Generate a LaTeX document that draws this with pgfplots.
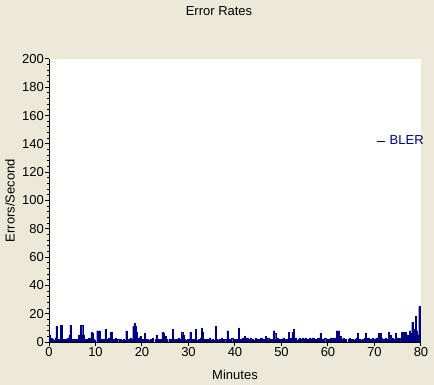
\documentclass[border=0pt]{standalone}
\usepackage{pgfplots}
\pgfplotsset{compat=1.18}
\usepackage{pgfplotstable}
\usepackage{fontspec}
\setmainfont{Liberation Sans}
\definecolor{bg}{RGB}{236,233,216}
\definecolor{navy}{RGB}{0,0,128}
% BLER, one value every 0.25 minute (4 values per minute)
\pgfplotstableread[row sep=\\]{
y\\
5\\2\\3\\2\\ 1\\3\\11\\2\\ 2\\1\\12\\2\\ 2\\2\\2\\0\\ 3\\5\\12\\1\\
2\\0\\2\\1\\ 2\\5\\5\\12\\ 12\\5\\2\\0\\ 2\\2\\3\\2\\ 7\\6\\2\\1\\
0\\8\\2\\8\\ 1\\2\\0\\2\\ 9\\2\\1\\3\\ 1\\7\\2\\0\\ 2\\3\\1\\2\\
0\\2\\1\\0\\ 2\\1\\8\\0\\ 2\\1\\3\\2\\ 11\\13\\11\\7\\ 2\\3\\4\\1\\
2\\0\\6\\2\\ 2\\1\\0\\2\\ 1\\3\\0\\2\\ 5\\1\\2\\0\\ 2\\7\\6\\1\\
4\\2\\0\\2\\ 1\\2\\9\\0\\ 2\\1\\2\\3\\ 1\\2\\7\\5\\ 2\\1\\0\\2\\
2\\7\\1\\2\\ 2\\0\\9\\1\\ 2\\1\\3\\10\\ 7\\2\\1\\2\\ 0\\2\\3\\1\\
2\\1\\0\\11\\ 2\\1\\2\\0\\ 3\\2\\1\\2\\ 0\\8\\2\\1\\ 2\\3\\0\\2\\
1\\2\\0\\10\\ 2\\1\\3\\2\\ 4\\2\\3\\1\\ 2\\3\\2\\2\\ 1\\3\\2\\0\\
2\\1\\3\\2\\ 2\\0\\4\\2\\ 3\\1\\2\\2\\ 2\\8\\6\\2\\ 3\\2\\1\\2\\
2\\3\\2\\2\\ 1\\2\\7\\3\\ 2\\7\\9\\2\\ 3\\1\\2\\3\\ 2\\2\\3\\2\\
3\\1\\2\\2\\ 3\\2\\3\\3\\ 2\\1\\2\\3\\ 2\\6\\2\\1\\ 2\\3\\0\\2\\
1\\2\\3\\2\\ 3\\2\\3\\8\\ 3\\8\\4\\2\\ 2\\3\\1\\2\\ 0\\2\\3\\2\\
2\\2\\1\\2\\ 3\\6\\2\\2\\ 1\\2\\2\\3\\ 6\\2\\3\\2\\ 2\\1\\3\\2\\
2\\3\\2\\6\\ 2\\6\\3\\2\\ 1\\3\\2\\2\\ 7\\5\\2\\3\\ 2\\2\\6\\3\\
2\\3\\1\\7\\ 5\\7\\7\\3\\ 5\\4\\8\\6\\ 14\\8\\9\\18\\ 8\\5\\25\\9\\
9\\
}\bler
\begin{document}
\begin{tikzpicture}[font=\fontsize{13bp}{15bp}\selectfont]
\fill[bg] (0,0) rectangle (434bp,385bp);
\begin{axis}[
  at={(49bp,43bp)}, anchor=south west,
  scale only axis, width=372bp, height=283bp,
  xmin=0, xmax=80, ymin=0, ymax=200,
  axis background/.style={fill=white},
  axis x line*=bottom, axis y line*=left,
  axis line style={black, line width=1bp},
  tick align=outside,
  xtick={0,10,...,80}, ytick={0,20,...,200},
  minor y tick num=4,
  major tick length=4bp, minor tick length=2.5bp,
  every tick/.style={black, line width=1bp},
  /pgf/number format/assume math mode=true,
  tick label style={font=\fontsize{13bp}{15bp}\selectfont},
  yticklabel style={inner sep=1bp},
  xticklabel style={inner sep=1bp},
  title={Error Rates},
  every axis title/.style={at={(axis description cs:0.457,1.155)}, anchor=base, inner sep=0pt, font=\fontsize{13bp}{15bp}\selectfont},
  xlabel={Minutes},
  xlabel style={at={(axis description cs:0.5,-0.117)}, anchor=center, font=\fontsize{13bp}{15bp}\selectfont},
  ylabel={Errors/Second},
  ylabel style={at={(axis description cs:-0.105,0.5)}, anchor=center, rotate=0, font=\fontsize{13bp}{15bp}\selectfont},
  legend style={at={(0.879,0.71)}, anchor=west, draw=none, fill=none,
    text=navy, font=\fontsize{13bp}{15bp}\selectfont, inner sep=0pt,
    column sep=3bp, nodes={inner sep=1.5bp}},
  legend image code/.code={\draw[navy, line width=1bp] (0bp,0bp) -- (8bp,0bp);},
]
\addplot[const plot, fill=navy, draw=navy, line width=0.3bp]
  table[x expr=\coordindex*0.25, y=y] {\bler} \closedcycle;
\addlegendentry{BLER}
\end{axis}
\pgfresetboundingbox
\useasboundingbox (0,0) rectangle (434bp,385bp);
\end{tikzpicture}
\end{document}
